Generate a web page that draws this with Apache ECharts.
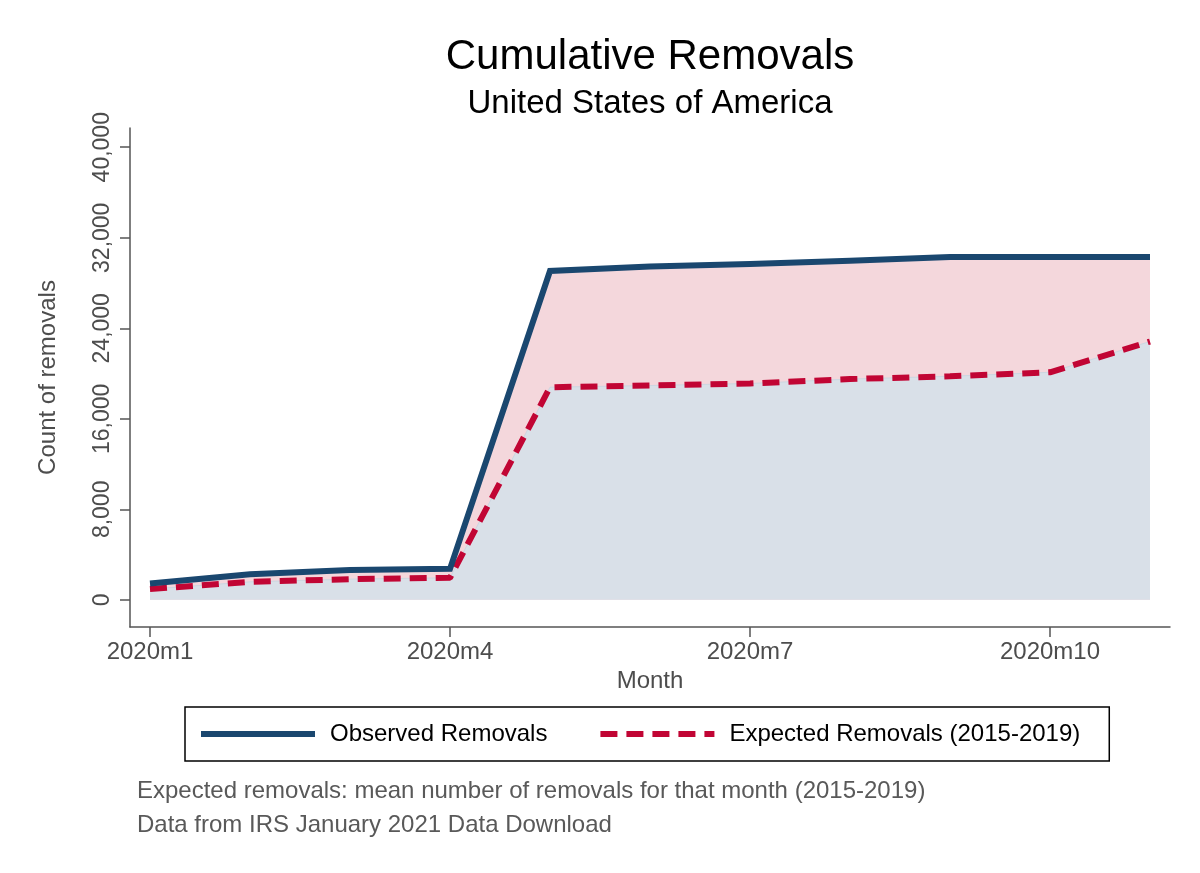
<!DOCTYPE html>
<html>
<head>
<meta charset="utf-8">
<script src="https://cdn.jsdelivr.net/npm/echarts@6/dist/echarts.min.js"></script>
<style>
html,body{margin:0;padding:0;background:#fff;}
#chart{width:1200px;height:873px;}
</style>
</head>
<body>
<div id="chart"></div>
<script>
// ---- data ----
var months = [1, 2, 3, 4, 5, 6, 7, 8, 9, 10, 11];
var observed = [1440, 2270, 2630, 2740, 29060, 29470, 29690, 29960, 30290, 30290, 30290];
var expected = [950, 1590, 1830, 1950, 18790, 18940, 19120, 19510, 19760, 20110, 22830];
var xTickMonths = [1, 4, 7, 10];
var yTickValues = [0, 8000, 16000, 24000, 32000, 40000];

var FONT = '"Liberation Sans", Arial, Helvetica, sans-serif';
function pairs(vals) { return months.map(function (m, i) { return [m, vals[i]]; }); }
function fmt(v) { return String(v).replace(/\B(?=(\d{3})+(?!\d))/g, ','); }

var chart = echarts.init(document.getElementById('chart'), null, {renderer: 'canvas'});
chart.setOption({
  animation: false,
  backgroundColor: '#ffffff',
  textStyle: {fontFamily: FONT},
  grid: {left: 130, right: 30, top: 128, bottom: 246},
  xAxis: {
    type: 'value', min: 0.8, max: 11.2,
    name: 'Month', nameLocation: 'middle', nameGap: 38,
    nameTextStyle: {fontSize: 24, color: '#4d4d4d', fontFamily: FONT},
    axisLine: {show: true, onZero: false, lineStyle: {color: '#555555', width: 1.5}},
    axisTick: {show: true, length: 10, customValues: xTickMonths, lineStyle: {color: '#555555', width: 1.5}},
    axisLabel: {customValues: xTickMonths, margin: 13, fontSize: 24, color: '#4d4d4d', fontFamily: FONT,
      formatter: function (v) { return '2020m' + v; }},
    splitLine: {show: false}
  },
  yAxis: {
    type: 'value', min: -2400, max: 41700,
    name: 'Count of removals', nameLocation: 'middle', nameGap: 70, nameRotate: 90,
    nameTextStyle: {fontSize: 24, color: '#4d4d4d', fontFamily: FONT},
    axisLine: {show: true, onZero: false, lineStyle: {color: '#555555', width: 1.5}},
    axisTick: {show: true, length: 10, customValues: yTickValues, lineStyle: {color: '#555555', width: 1.5}},
    axisLabel: {customValues: yTickValues, rotate: 90, margin: 16, fontSize: 23, color: '#4d4d4d', fontFamily: FONT,
      formatter: function (v) { return fmt(v); }},
    splitLine: {show: false}
  },
  legend: {
    data: ['Observed Removals', 'Expected Removals (2015-2019)'],
    left: 185, top: 707,
    orient: 'horizontal',
    padding: [15, 29, 15, 13],
    itemGap: 50,
    itemWidth: 114, itemHeight: 24,
    borderColor: '#000000', borderWidth: 1.5,
    lineStyle: {width: 6},
    itemStyle: {opacity: 0},
    textStyle: {fontSize: 24, color: '#000000', fontFamily: FONT, padding: [0, 0, 0, 10], lineHeight: 24}
  },
  series: [
    {
      name: 'obsArea', type: 'line', data: pairs(observed), symbol: 'none',
      lineStyle: {width: 1, color: '#f0cdd3'}, areaStyle: {color: '#f4d7dc', opacity: 1}, z: 1, silent: true
    },
    {
      name: 'expArea', type: 'line', data: pairs(expected), symbol: 'none',
      lineStyle: {width: 1, color: '#cdd6e1'}, areaStyle: {color: '#d9e0e8', opacity: 1}, z: 2, silent: true
    },
    {
      name: 'Observed Removals', type: 'line', data: pairs(observed), symbol: 'none',
      lineStyle: {width: 6, color: '#1a476f', join: 'miter'}, itemStyle: {color: '#1a476f'}, z: 4
    },
    {
      name: 'Expected Removals (2015-2019)', type: 'line', data: pairs(expected), symbol: 'none',
      lineStyle: {width: 6, color: '#c10534', type: [17, 9]}, itemStyle: {color: '#c10534'}, z: 3
    }
  ],
  graphic: [
    {type: 'text', x: 650, y: 57, style: {text: 'Cumulative Removals', fill: '#000', font: '42px ' + FONT, textAlign: 'center', textVerticalAlign: 'middle'}},
    {type: 'text', x: 650, y: 104, style: {text: 'United States of America', fill: '#000', font: '33px ' + FONT, textAlign: 'center', textVerticalAlign: 'middle'}},
    {type: 'text', x: 137, y: 791, style: {text: 'Expected removals: mean number of removals for that month (2015-2019)', fill: '#595959', font: '24px ' + FONT, textAlign: 'left', textVerticalAlign: 'middle'}},
    {type: 'text', x: 137, y: 825, style: {text: 'Data from IRS January 2021 Data Download', fill: '#595959', font: '24px ' + FONT, textAlign: 'left', textVerticalAlign: 'middle'}}
  ]
});
</script>
</body>
</html>
